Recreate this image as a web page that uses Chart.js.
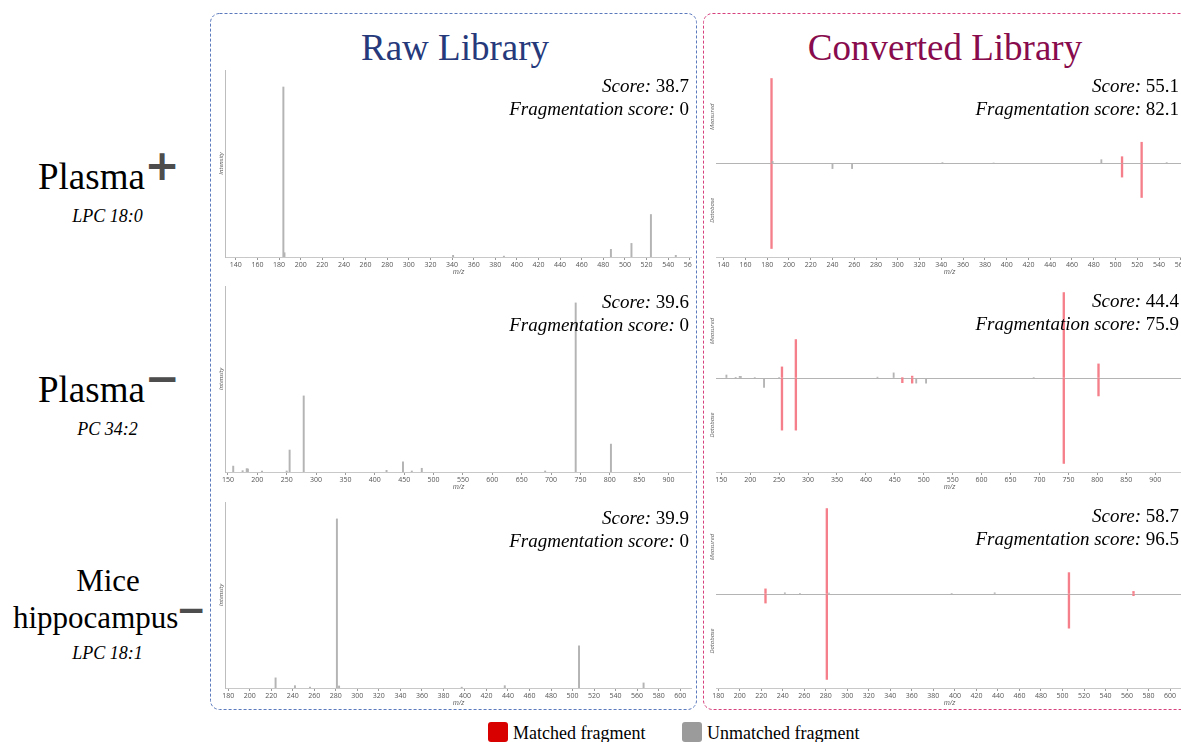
<!DOCTYPE html>
<html>
<head>
<meta charset="utf-8">
<script src="https://cdn.jsdelivr.net/npm/chart.js@4.4.1/dist/chart.umd.min.js"></script>
<style>
  html, body { margin: 0; padding: 0; background: #fff; overflow: hidden; }
  #page { position: relative; width: 1181px; height: 742px; overflow: hidden; }
  .t { position: absolute; white-space: nowrap; line-height: 1; font-family: "Liberation Serif", "Times New Roman", serif; color: #000; }
  .sign { position: absolute; line-height: 1; font-family: "DejaVu Sans", sans-serif; font-weight: bold; color: #4d4d4d; transform: translate(-50%, -50%); }
  .key { position: absolute; width: 20px; height: 20px; border-radius: 3px; }
  canvas { position: absolute; }
</style>
</head>
<body>
<div id="page">
  <svg width="1181" height="742" style="position:absolute;left:0;top:0">
    <rect x="210.5" y="13.5" width="486" height="696" rx="9" fill="none" stroke="#5b79bd" stroke-width="1" stroke-dasharray="3 2"/>
    <rect x="703.5" y="13.5" width="492" height="696" rx="9" fill="none" stroke="#d6407d" stroke-width="1" stroke-dasharray="3 2"/>
  </svg>
</div>
<script>
// ---- data: measured spectra (m/z, relative intensity %) ----
const plasmaPosMz      = [184, 185, 341, 388, 487, 506, 524, 547];
const plasmaPosInt     = [100, 2.5, 1, 0.5, 4.5, 8, 25, 1];
const plasmaPosMatched = [1, 0, 0, 0, 0, 1, 1, 0];
// converted library (database) spectrum, drawn downwards
const plasmaPosDbMz      = [184, 240, 258, 506, 524];
const plasmaPosDbInt     = [100, 6, 6, 16, 40];
const plasmaPosDbMatched = [1, 0, 0, 1, 1];

const plasmaNegMz      = [159, 175, 182, 184, 208, 250, 255, 279, 420, 448, 463, 480, 690, 742, 802];
const plasmaNegInt     = [3.5, 0.8, 2, 1.8, 0.6, 0.6, 13, 45, 1, 6, 0.6, 2.2, 0.6, 100, 16.5];
const plasmaNegMatched = [0, 0, 0, 0, 0, 0, 1, 1, 0, 0, 1, 1, 0, 1, 1];
const plasmaNegDbMz      = [224, 255, 279, 463, 480, 487, 504, 742, 802];
const plasmaNegDbInt     = [11, 61, 61, 5.5, 6, 6, 6, 100, 21];
const plasmaNegDbMatched = [0, 1, 1, 1, 1, 0, 0, 1, 1];

const hippoMz      = [224, 242, 256, 281, 283, 397, 437, 506, 566];
const hippoInt     = [6, 1.4, 0.5, 100, 1.2, 0.5, 1.4, 25, 3];
const hippoMatched = [1, 0, 0, 1, 0, 0, 0, 1, 1];
const hippoDbMz      = [224, 281, 506, 566];
const hippoDbInt     = [10.6, 100, 40, 2];
const hippoDbMatched = [1, 1, 1, 1];

const rawScores      = [38.7, 39.6, 39.9];
const rawFragScores  = [0, 0, 0];
const convScores     = [55.1, 44.4, 58.7];
const convFragScores = [82.1, 75.9, 96.5];

const rawXRange  = [[130, 562], [145, 940], [177, 611]];
const convXRange = [[133, 562], [141, 948], [178, 612]];
const xSteps     = [20, 50, 20];

const RED = '#f5808b';
const GRAY = '#b4b4b4';

const page = document.getElementById('page');

function addText(html, x, base, size, o = {}) {
  const d = document.createElement('div');
  d.className = 't';
  d.innerHTML = html;
  d.style.fontSize = size + 'px';
  d.style.top = (base - 0.8375 * size) + 'px';
  if (o.align === 'center') { d.style.left = x + 'px'; d.style.transform = 'translateX(-50%)'; }
  else if (o.align === 'right') { d.style.right = (1181 - x) + 'px'; }
  else d.style.left = x + 'px';
  if (o.color) d.style.color = o.color;
  if (o.italic) d.style.fontStyle = 'italic';
  page.appendChild(d);
}

function addSign(ch, cx, cy, size) {
  const d = document.createElement('div');
  d.className = 'sign';
  d.textContent = ch;
  d.style.fontSize = size + 'px';
  d.style.left = cx + 'px';
  d.style.top = cy + 'px';
  page.appendChild(d);
}

// titles
addText('Raw Library', 455, 60, 37, { align: 'center', color: '#26397b' });
addText('Converted Library', 945, 60, 37, { align: 'center', color: '#880b4d' });

// row labels
addText('Plasma', 38, 189, 37);
addSign('+', 162, 166, 42);
addText('LPC 18:0', 107.5, 222, 18, { align: 'center', italic: true });
addText('Plasma', 38, 402, 37);
addSign('\u2212', 162, 379, 42);
addText('PC 34:2', 107.5, 435, 18, { align: 'center', italic: true });
addText('Mice', 108, 591, 31, { align: 'center' });
addText('hippocampus', 13, 628, 31);
addSign('\u2212', 191, 610, 36);
addText('LPC 18:1', 107.5, 659, 18, { align: 'center', italic: true });

// legend
function addKey(x, color, label) {
  const k = document.createElement('div');
  k.className = 'key';
  k.style.left = x + 'px'; k.style.top = '722px'; k.style.background = color;
  page.appendChild(k);
  addText(label, x + 25, 739, 18);
}
addKey(488, '#d90000', 'Matched fragment');
addKey(682, '#9b9b9b', 'Unmatched fragment');

// side labels for mirror plots
const sideLabels = {
  id: 'sideLabels',
  afterDraw(chart, args, o) {
    if (!o.top) return;
    const { ctx, chartArea: a } = chart;
    const h = a.bottom - a.top;
    ctx.save();
    ctx.font = 'italic 6px "Open Sans"';
    ctx.fillStyle = '#555';
    ctx.textAlign = 'center';
    ctx.textBaseline = 'middle';
    [[o.top, a.top + h / 4], [o.bottom, a.top + 3 * h / 4]].forEach(([t, y]) => {
      ctx.save();
      ctx.translate(a.left - 4, y);
      ctx.rotate(-Math.PI / 2);
      ctx.fillText(t, 0, 0);
      ctx.restore();
    });
    ctx.restore();
  }
};

function points(mz, int, flags, want, sign) {
  const out = [];
  mz.forEach((m, i) => { if (want === null || flags[i] === want) out.push({ x: m, y: sign * int[i] }); });
  return out;
}

function xAxis(range, step) {
  return {
    type: 'linear', min: range[0], max: range[1], offset: false,
    ticks: { stepSize: step, includeBounds: false, autoSkip: false, maxRotation: 0, padding: 1,
             font: { family: 'Open Sans', size: 7 }, color: '#555' },
    grid: { display: true, offset: false, drawOnChartArea: false, tickLength: 3, color: '#999' },
    border: { color: '#c8c8c8' },
    title: { display: true, text: 'm/z', color: '#555', padding: { top: 0, bottom: 4 },
             font: { family: 'Open Sans', size: 7, style: 'italic' } },
    afterFit(s) { s.height = 23; s.paddingLeft = 0; s.paddingRight = 0; }
  };
}

function makeCanvas(left, top, w, h) {
  const c = document.createElement('canvas');
  c.width = w; c.height = h;
  c.style.left = left + 'px'; c.style.top = top + 'px';
  c.style.width = w + 'px'; c.style.height = h + 'px';
  page.appendChild(c);
  return c;
}

const baseOpts = {
  responsive: false, animation: false, events: [],
  layout: { padding: 0 },
  plugins: { legend: { display: false }, tooltip: { enabled: false } }
};

function scoreLines(i, right, base, scores, frags) {
  addText('<i>Score:</i> ' + scores[i], right, base, 19, { align: 'right' });
  addText('<i>Fragmentation score:</i> ' + frags[i], right, base + 22.5, 19, { align: 'right' });
}

function rawChart(i, mz, int, top, plotH) {
  const c = makeCanvas(210, top, 482, plotH + 23);
  new Chart(c, {
    type: 'bar',
    data: { datasets: [{ data: points(mz, int, null, null, 1), backgroundColor: GRAY, barThickness: 1.3, stack: 's' }] },
    options: Object.assign({}, baseOpts, {
      scales: {
        x: xAxis(rawXRange[i], xSteps[i]),
        y: { min: 0, max: 110, ticks: { display: false }, grid: { display: false },
             border: { color: '#bdbdbd' },
             title: { display: true, text: 'Intensity', color: '#555', padding: { top: 8, bottom: 0 },
                      font: { family: 'Open Sans', size: 6, style: 'italic' } },
             afterFit(s) { s.width = 15; } }
      }
    })
  });
  scoreLines(i, 689, top + 22, rawScores, rawFragScores);
}

function convChart(i, mz, int, flags, dbMz, dbInt, dbFlags, top, plotH) {
  const c = makeCanvas(703, top, 480, plotH + 23);
  new Chart(c, {
    type: 'bar',
    data: { datasets: [
      { data: points(mz, int, flags, 0, 1), backgroundColor: GRAY, barThickness: 1.2, stack: 's' },
      { data: points(dbMz, dbInt, dbFlags, 0, -1), backgroundColor: GRAY, barThickness: 1.2, stack: 's' },
      { data: points(mz, int, flags, 1, 1), backgroundColor: RED, barThickness: 1.7, stack: 's' },
      { data: points(dbMz, dbInt, dbFlags, 1, -1), backgroundColor: RED, barThickness: 1.7, stack: 's' }
    ] },
    options: Object.assign({}, baseOpts, {
      plugins: Object.assign({}, baseOpts.plugins, { sideLabels: { top: 'Measured', bottom: 'Database' } }),
      scales: {
        x: xAxis(convXRange[i], xSteps[i]),
        y: { min: -110, max: 110, ticks: { display: false, stepSize: 110 },
             grid: { display: true, drawTicks: false,
                     color: ctx => (ctx.tick && ctx.tick.value === 0) ? '#b4b4b4' : 'rgba(0,0,0,0)' },
             border: { display: false },
             afterFit(s) { s.width = 13; } }
      }
    }),
    plugins: [sideLabels]
  });
  scoreLines(i, 1179, [70, 285, 500][i] + 22, convScores, convFragScores);
}

rawChart(0, plasmaPosMz, plasmaPosInt, 70, 187);
rawChart(1, plasmaNegMz, plasmaNegInt, 286, 186);
rawChart(2, hippoMz, hippoInt, 502, 186);

convChart(0, plasmaPosMz, plasmaPosInt, plasmaPosMatched, plasmaPosDbMz, plasmaPosDbInt, plasmaPosDbMatched, 70, 187);
convChart(1, plasmaNegMz, plasmaNegInt, plasmaNegMatched, plasmaNegDbMz, plasmaNegDbInt, plasmaNegDbMatched, 284, 188);
convChart(2, hippoMz, hippoInt, hippoMatched, hippoDbMz, hippoDbInt, hippoDbMatched, 500, 188);
</script>
</body>
</html>
